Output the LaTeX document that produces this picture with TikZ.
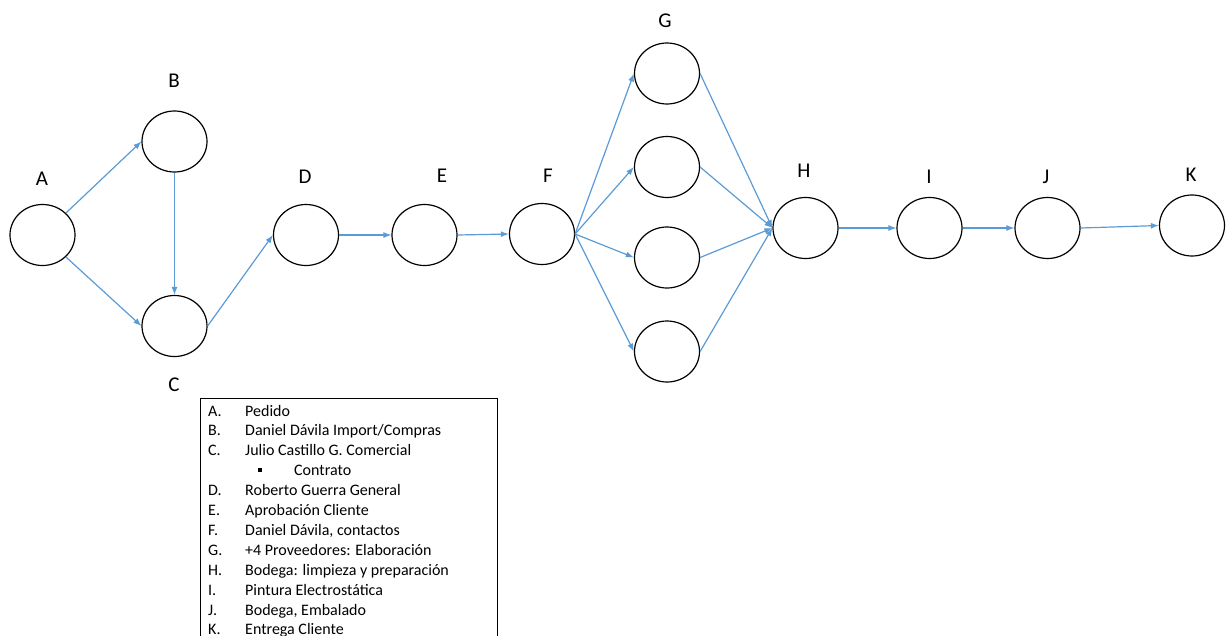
\documentclass[tikz,border=0pt]{standalone}
\usepackage{fontspec}
\setmainfont{Carlito}
\usetikzlibrary{shapes.geometric,arrows.meta}
\definecolor{flow}{RGB}{91,155,213}
\tikzset{
  stage/.style={ellipse,draw=black,line width=1.2pt,minimum width=65pt,minimum height=61pt,inner sep=0pt},
  tag/.style={inner sep=0pt,font=\fontsize{21}{24}\selectfont},
  link/.style={draw=flow,line width=1.2pt,-{Latex[length=8pt,width=6pt]}},
  legtxt/.style={inner sep=0pt,anchor=base west,font=\fontsize{16}{18}\selectfont}
}
\begin{document}
\begin{tikzpicture}[x=1pt,y=-1pt]
\useasboundingbox (0,0) rectangle (1229,635);
% stages
\node[stage] (A) at (42.5,235) {};
\node[stage] (B) at (174.5,141.5) {};
\node[stage] (C) at (174.5,326) {};
\node[stage] (D) at (306,235) {};
\node[stage] (E) at (424.5,235) {};
\node[stage] (F) at (542,234) {};
\node[stage] (G1) at (667,73.5) {};
\node[stage] (G2) at (667,167) {};
\node[stage] (G3) at (667,257.5) {};
\node[stage] (G4) at (667,351.5) {};
\node[stage] (H) at (805.5,228) {};
\node[stage] (I) at (929.5,228) {};
\node[stage] (J) at (1047.5,228) {};
\node[stage] (K) at (1192,225.5) {};
% letters
\node[tag] (lA) at (42,179) {A};
\node[tag] (lB) at (174,81) {B};
\node[tag] (lC) at (174,385) {C};
\node[tag] (lD) at (305,177) {D};
\node[tag] (lE) at (442,176) {E};
\node[tag] (lF) at (548,176) {F};
\node[tag] (lG) at (665,21) {G};
\node[tag] (lH) at (804,171) {H};
\node[tag] (lI) at (929,177) {I};
\node[tag] (lJ) at (1046,177) {J};
\node[tag] (lK) at (1191,175) {K};
% connectors
\draw[link] (A.north east) -- (B.west);
\draw[link] (A.south east) -- (C.west);
\draw[link] (B.south) -- (C.north);
\draw[link] (C.east) -- (D.west);
\draw[link] (D.east) -- (E.west);
\draw[link] (E.east) -- (F.west);
\foreach \g in {G1,G2,G3,G4}{
  \draw[link] (F.east) -- (\g.west);
  \draw[link] (\g.east) -- (H.west);
}
\draw[link] (H.east) -- (I.west);
\draw[link] (I.east) -- (J.west);
\draw[link] (J.east) -- (K.west);
% legend
\draw[line width=0.8pt] (200,642) -- (200,398) -- (497,398) -- (497,642);
\foreach \k/\lt/\txt [count=\n from 0] in {
  A/A./Pedido,
  B/B./Daniel Dávila Import\slash Compras,
  C/C./Julio Castillo G. Comercial,
  X//,
  D/D./Roberto Guerra General,
  E/E./Aprobación Cliente,
  F/F./Daniel Dávila{,} contactos,
  G/G./+4 Proveedores: Elaboración,
  H/H./Bodega: limpieza y preparación,
  I/I./Pintura Electrostática,
  J/J./Bodega{,} Embalado,
  K/K./Entrega Cliente}{
  \node[legtxt] (k\k) at (208,416+19.9*\n) {\lt};
  \node[legtxt] (t\k) at (245,416+19.9*\n) {\txt};
}
\node[legtxt] (sub) at (294,416+19.9*3) {Contrato};
\node[fill=black,inner sep=0pt,minimum size=4.5pt] (dot) at (260,416+19.9*3-5.5) {};
\end{tikzpicture}
\end{document}
